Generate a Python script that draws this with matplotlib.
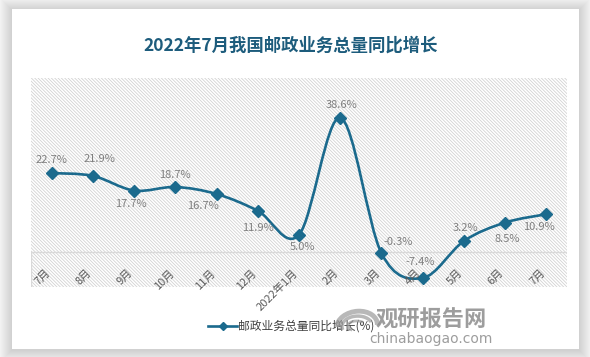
import numpy as np
import matplotlib
matplotlib.use("Agg")
import matplotlib.pyplot as plt
from matplotlib.path import Path
from matplotlib.patches import PathPatch, Rectangle, Arc

plt.rcParams['font.family'] = ['Noto Sans CJK SC', 'DejaVu Sans']
plt.rcParams['hatch.linewidth'] = 0.55

# data
months = ['7月', '8月', '9月', '10月', '11月', '12月', '2022年1月',
          '2月', '3月', '4月', '5月', '6月', '7月']
growth = [22.7, 21.9, 17.7, 18.7, 16.7, 11.9, 5.0, 38.6, -0.3, -7.4, 3.2, 8.5, 10.9]
# label offsets (pixels) from each point, as placed in the reference
label_dx = [0, 7, -3, 0, -14, 0, 3, 1, 17, -2, 2, 2, -7]
label_dy = [13, 17, -13, 12, -12, -17, -12, 13, 11, 16, 13, -16, -13]

line_color = '#1B6A8D'
title_color = '#1D5C7C'
W, H = 590, 357


def fx(x):
    return x / W


def fy(y):
    return 1 - y / H


fig = plt.figure(figsize=(W / 100, H / 100), dpi=100)
fig.patch.set_facecolor('#FBFBFB')

# card shadow + white card
cx0, cy0, cx1, cy1 = 12, 9, 579, 349
for k in range(14, 0, -1):
    fig.patches.append(Rectangle((fx(cx0 - k), fy(cy1 + k + 1)),
                                 (cx1 - cx0 + 2 * k) / W, (cy1 - cy0 + 2 * k) / H,
                                 transform=fig.transFigure, facecolor='black',
                                 alpha=0.011, edgecolor='none', zorder=-3))
fig.patches.append(Rectangle((fx(cx0), fy(cy1)), (cx1 - cx0) / W, (cy1 - cy0) / H,
                             transform=fig.transFigure, facecolor='white',
                             edgecolor='none', zorder=-2))

fig.text(fx(291), fy(46), '2022年7月我国邮政业务总量同比增长', ha='center', va='center',
         fontsize=12.5, fontweight='bold', color=title_color)

ax = fig.add_axes([fx(31), fy(287), (567 - 31) / W, (287 - 78) / H])
ax.set_facecolor('none')
ax.add_patch(Rectangle((0, 0), 1, 1, transform=ax.transAxes, facecolor='white',
                       edgecolor='#CFCFCF', hatch='\\' * 10, linewidth=0, zorder=0))
ax.set_xlim(-0.5, len(months) - 0.5)
ax.set_ylim(-10, 50)
for s in ax.spines.values():
    s.set_visible(False)
ax.set_xticks([])
ax.set_yticks([])

ax.axhline(0, color='#D9D9D9', lw=1.0, zorder=1)
ax.plot([-0.5, -0.5], [-10, 0], color='#D9D9D9', lw=1.0, zorder=1)

# smoothed line (Bezier through the points, like Excel's smoothing)
x = np.arange(len(growth), dtype=float)
y = np.array(growth, dtype=float)
verts = [(x[0], y[0])]
codes = [Path.MOVETO]
n = len(x)
for i in range(n - 1):
    p0 = np.array([x[max(i - 1, 0)], y[max(i - 1, 0)]])
    p1 = np.array([x[i], y[i]])
    p2 = np.array([x[i + 1], y[i + 1]])
    p3 = np.array([x[min(i + 2, n - 1)], y[min(i + 2, n - 1)]])
    c1 = p1 + (p2 - p0) / 6
    c2 = p2 - (p3 - p1) / 6
    verts += [tuple(c1), tuple(c2), tuple(p2)]
    codes += [Path.CURVE4] * 3
ax.add_patch(PathPatch(Path(verts, codes), facecolor='none', edgecolor=line_color,
                       lw=1.9, zorder=3, capstyle='round', joinstyle='round'))
ax.plot(x, y, linestyle='none', marker='D', markersize=6, color=line_color, zorder=4)

for i, v in enumerate(growth):
    ax.annotate(f'{v:.1f}%', (i, v), xytext=(label_dx[i], label_dy[i]),
                textcoords='offset pixels', ha='center', va='center',
                fontsize=8, color='#7F7F7F', zorder=5)

for i, m in enumerate(months):
    ax.annotate(m, (i, 0), xytext=(-3, -19), textcoords='offset pixels',
                rotation=45, rotation_mode='anchor', ha='right', va='center',
                fontsize=8, color='#595959', annotation_clip=False, zorder=5)

# legend
fig.add_artist(plt.Line2D([fx(208), fx(237)], [fy(326), fy(326)], color=line_color,
                          lw=1.9, transform=fig.transFigure, zorder=5))
fig.add_artist(plt.Line2D([fx(222.5)], [fy(326)], marker='D', markersize=4.5,
                          color=line_color, transform=fig.transFigure, zorder=6))
fig.text(fx(238), fy(326), '邮政业务总量同比增长(%)', ha='left', va='center',
         fontsize=8.5, color='#404040', zorder=5)

# watermark
for w, h, t1, t2, lw in [(40, 30, 20, 200, 3.5), (30, 20, 40, 220, 2.5), (18, 10, 60, 250, 2)]:
    fig.add_artist(Arc((fx(357), fy(326)), w / W, h / H, angle=-15, theta1=t1, theta2=t2,
                       transform=fig.transFigure, color='#9A9A9A', lw=lw, alpha=0.7, zorder=7))
fig.text(fx(431), fy(320), '观研报告网', ha='center', va='center', fontsize=16,
         fontweight='bold', color='#8C8C8C', alpha=0.85, zorder=7)
fig.text(fx(431), fy(339), 'chinabaogao.com', ha='center', va='center', fontsize=10,
         color='#8C8C8C', alpha=0.85, zorder=7, family='DejaVu Sans')

fig.savefig('out.png', dpi=100, facecolor=fig.get_facecolor())
